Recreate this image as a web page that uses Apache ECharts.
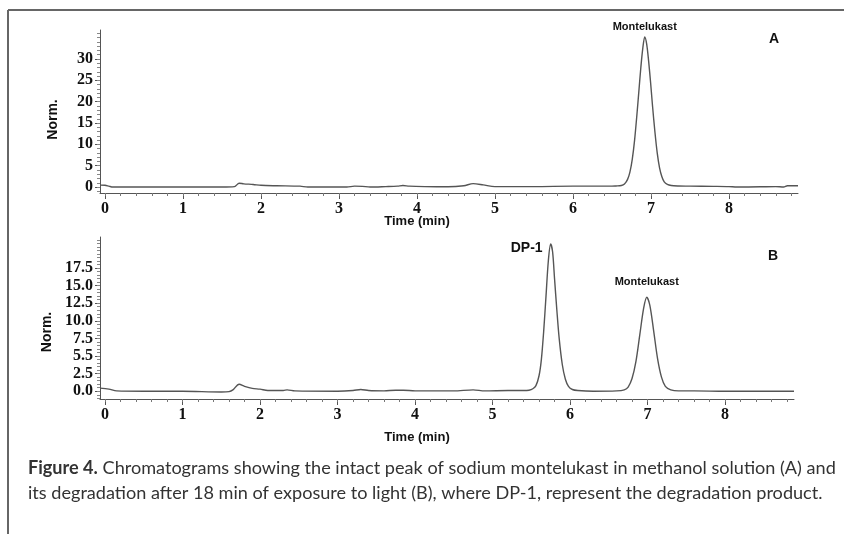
<!DOCTYPE html>
<html>
<head>
<meta charset="utf-8">
<script src="https://cdn.jsdelivr.net/npm/echarts@6/dist/echarts.min.js"></script>
<style>
  html, body { margin: 0; padding: 0; background: #fff; }
  #chart { width: 844px; height: 534px; }
</style>
</head>
<body>
<div id="chart"></div>
<script>
// chromatogram A: sodium montelukast in methanol, [time (min), norm.]
const traceA = [
  [-0.06, 0.45], [0.0, 0.4], [0.05, 0.2], [0.1, 0.0], [0.5, 0.0], [1.0, 0.0], [1.5, 0.0],
  [1.66, 0.1], [1.72, 0.9], [1.78, 0.75], [1.9, 0.6], [2.0, 0.4], [2.2, 0.3], [2.5, 0.2],
  [2.6, 0.0], [3.1, 0.0], [3.2, 0.2], [3.3, 0.15], [3.4, 0.0], [3.6, 0.1], [3.75, 0.2],
  [3.82, 0.35], [3.9, 0.2], [4.1, 0.1], [4.4, 0.05], [4.6, 0.3], [4.72, 0.8], [4.85, 0.5],
  [5.0, 0.1], [5.5, 0.1], [6.0, 0.2], [6.5, 0.2],
  [6.55, 0.25], [6.62, 0.35], [6.66, 0.7], [6.70, 1.8], [6.73, 3.5], [6.76, 6.5], [6.79, 11],
  [6.82, 17], [6.845, 22.5], [6.87, 28], [6.895, 32.5], [6.92, 35.2], [6.945, 33.5],
  [6.97, 29.5], [6.995, 24.5], [7.02, 19], [7.05, 13], [7.08, 8], [7.11, 4.5], [7.14, 2.4],
  [7.17, 1.2], [7.21, 0.6], [7.26, 0.35], [7.35, 0.25],
  [7.5, 0.2], [7.8, 0.15], [8.0, 0.1], [8.1, 0.0], [8.4, 0.05], [8.6, 0.1], [8.7, 0.0],
  [8.75, 0.3], [8.885, 0.3]
];

// chromatogram B: after 18 min of light exposure
const traceB = [
  [-0.065, 0.45], [0.05, 0.3], [0.15, 0.05], [0.5, 0.0], [1.0, 0.0], [1.5, -0.1], [1.6, -0.05],
  [1.65, 0.2], [1.73, 1.0], [1.8, 0.7], [1.9, 0.4], [2.0, 0.3], [2.1, 0.1], [2.3, 0.1],
  [2.35, 0.2], [2.45, 0.05], [3.0, 0.0], [3.2, 0.1], [3.3, 0.25], [3.4, 0.1], [3.6, 0.05],
  [3.75, 0.15], [3.85, 0.15], [4.0, 0.05], [4.5, 0.05], [4.75, 0.2], [4.9, 0.05], [5.2, 0.1],
  [5.4, 0.1], [5.47, 0.15], [5.52, 0.35], [5.56, 0.8], [5.6, 2.2], [5.63, 4.5], [5.66, 8.5],
  [5.69, 13.5], [5.72, 18.5], [5.75, 20.9], [5.775, 19.8], [5.8, 16], [5.83, 11.5], [5.86, 7.5],
  [5.9, 3.8], [5.94, 1.7], [5.98, 0.7], [6.03, 0.25], [6.1, 0.1],
  [6.3, 0.0], [6.6, 0.05], [6.7, 0.2], [6.75, 0.6], [6.8, 1.8], [6.85, 4.2], [6.9, 8],
  [6.95, 11.8], [6.99, 13.35], [7.03, 12.2], [7.08, 8.5], [7.13, 4.6], [7.18, 2.0],
  [7.23, 0.7], [7.3, 0.2], [7.4, 0.05], [7.6, 0.05], [8.0, 0.0], [8.5, 0.0], [8.89, 0.0]
];

const peaksA = [{ name: "Montelukast", coord: [6.92, 35.2] }];
const peaksB = [
  { name: "DP-1", coord: [5.75, 20.9] },
  { name: "Montelukast", coord: [6.99, 13.35] }
];

const timeTicks = [0, 1, 2, 3, 4, 5, 6, 7, 8];
const normTicksA = [0, 5, 10, 15, 20, 25, 30];
const normTicksB = [0, 2.5, 5, 7.5, 10, 12.5, 15, 17.5];
const normLabelsB = ["0.0", "2.5", "5.5", "7.5", "10.0", "12.5", "15.0", "17.5"];

const captionLine1 = "Chromatograms showing the intact peak of sodium montelukast in methanol solution (A) and";
const captionLine2 = "its degradation after 18 min of exposure to light (B), where DP-1, represent the degradation product.";

function steps(from, to, step) {
  const out = [];
  for (let v = from; v <= to + 1e-9; v += step) out.push(Math.round(v * 100) / 100);
  return out;
}
const minorTime = steps(0, 8.8, 0.2);
const minorNormA = steps(-1, 36, 1);
const minorNormB = steps(-1, 21.5, 0.5);

const axisColor = "#555";
const tickFont = { fontFamily: "Liberation Serif", fontWeight: "bold", fontSize: 16, color: "#111" };
const sansBold = { fontFamily: "Liberation Sans", fontWeight: "bold", color: "#111" };

function timeAxes(grid, min, max) {
  return [
    {
      type: "value", gridIndex: grid, position: "bottom", min, max,
      axisLine: { onZero: false, lineStyle: { color: axisColor, width: 1 } },
      axisTick: { customValues: timeTicks, length: 6, lineStyle: { color: axisColor } },
      axisLabel: { customValues: timeTicks, margin: 8, ...tickFont },
      splitLine: { show: false }
    },
    {
      type: "value", gridIndex: grid, position: "bottom", min, max,
      axisLine: { show: false, onZero: false },
      axisTick: { customValues: minorTime, length: 3, lineStyle: { color: "#777" } },
      axisLabel: { show: false },
      splitLine: { show: false }
    }
  ];
}

function normAxes(grid, min, max, ticks, minor, fmt, namePad) {
  return [
    {
      type: "value", gridIndex: grid, position: "left", min, max,
      name: "Norm.", nameLocation: "middle", nameGap: 40, nameRotate: 90,
      nameTextStyle: { ...sansBold, fontSize: 14, padding: namePad },
      axisLine: { onZero: false, lineStyle: { color: axisColor, width: 1 } },
      axisTick: { customValues: ticks, length: 5, lineStyle: { color: axisColor } },
      axisLabel: { customValues: ticks, margin: 7, formatter: fmt, ...tickFont },
      splitLine: { show: false }
    },
    {
      type: "value", gridIndex: grid, position: "left", min, max,
      axisLine: { show: false, onZero: false },
      axisTick: { customValues: minor, length: 3, lineStyle: { color: "#888" } },
      axisLabel: { show: false },
      splitLine: { show: false }
    }
  ];
}

function peakLabels(list, opts) {
  return {
    symbol: "circle", symbolSize: 0, silent: true,
    data: list.map((p, i) => ({ name: p.name, coord: p.coord, label: opts[i] }))
  };
}

const chart = echarts.init(document.getElementById("chart"));
chart.setOption({
  animation: false,
  backgroundColor: "#fff",
  grid: [
    { left: 100, top: 30, width: 698, height: 163 },
    { left: 100, top: 237, width: 694, height: 162 }
  ],
  xAxis: [...timeAxes(0, -0.064, 8.885), ...timeAxes(1, -0.065, 8.89)],
  yAxis: [
    ...normAxes(0, -1.4, 36.8, normTicksA, minorNormA, (v) => String(v), [0, 16, 0, 0]),
    ...normAxes(1, -1.1, 21.9, normTicksB, minorNormB, (v) => normLabelsB[normTicksB.indexOf(v)], [0, 28, 0, 0])
  ],
  series: [
    {
      type: "line", xAxisIndex: 0, yAxisIndex: 0, data: traceA,
      showSymbol: false, smooth: 0.3,
      lineStyle: { color: "#555", width: 1.4 },
      markPoint: peakLabels(peaksA, [
        { show: true, position: "top", distance: 4, formatter: "{b}", ...sansBold, fontSize: 11 }
      ])
    },
    {
      type: "line", xAxisIndex: 2, yAxisIndex: 2, data: traceB,
      showSymbol: false, smooth: 0.3,
      lineStyle: { color: "#555", width: 1.4 },
      markPoint: peakLabels(peaksB, [
        { show: true, position: "left", distance: 8, offset: [0, 4], formatter: "{b}", ...sansBold, fontSize: 14 },
        { show: true, position: "top", distance: 10, formatter: "{b}", ...sansBold, fontSize: 11 }
      ])
    }
  ],
  graphic: [
    { type: "line", shape: { x1: 8, y1: 10, x2: 844, y2: 10 }, style: { stroke: "#666", lineWidth: 2 } },
    { type: "line", shape: { x1: 8, y1: 10, x2: 8, y2: 534 }, style: { stroke: "#666", lineWidth: 2 } },
    { type: "text", x: 774, y: 39, style: { text: "A", font: "bold 14px 'Liberation Sans'", fill: "#111", align: "center", verticalAlign: "middle" } },
    { type: "text", x: 773, y: 256, style: { text: "B", font: "bold 14px 'Liberation Sans'", fill: "#111", align: "center", verticalAlign: "middle" } },
    { type: "text", x: 417, y: 221, style: { text: "Time (min)", font: "bold 13px 'Liberation Sans'", fill: "#111", align: "center", verticalAlign: "middle" } },
    { type: "text", x: 417, y: 437, style: { text: "Time (min)", font: "bold 13px 'Liberation Sans'", fill: "#111", align: "center", verticalAlign: "middle" } },
    {
      type: "text", x: 28, y: 468,
      style: {
        text: "{b|Figure 4.} " + captionLine1,
        font: "18.1px Lato", fill: "#333", verticalAlign: "middle",
        rich: { b: { fontFamily: "Lato", fontWeight: "bold", fontSize: 18.1, fill: "#333" } }
      }
    },
    {
      type: "text", x: 28, y: 493,
      style: { text: captionLine2, font: "18.1px Lato", fill: "#333", verticalAlign: "middle" }
    }
  ]
});
</script>
</body>
</html>
